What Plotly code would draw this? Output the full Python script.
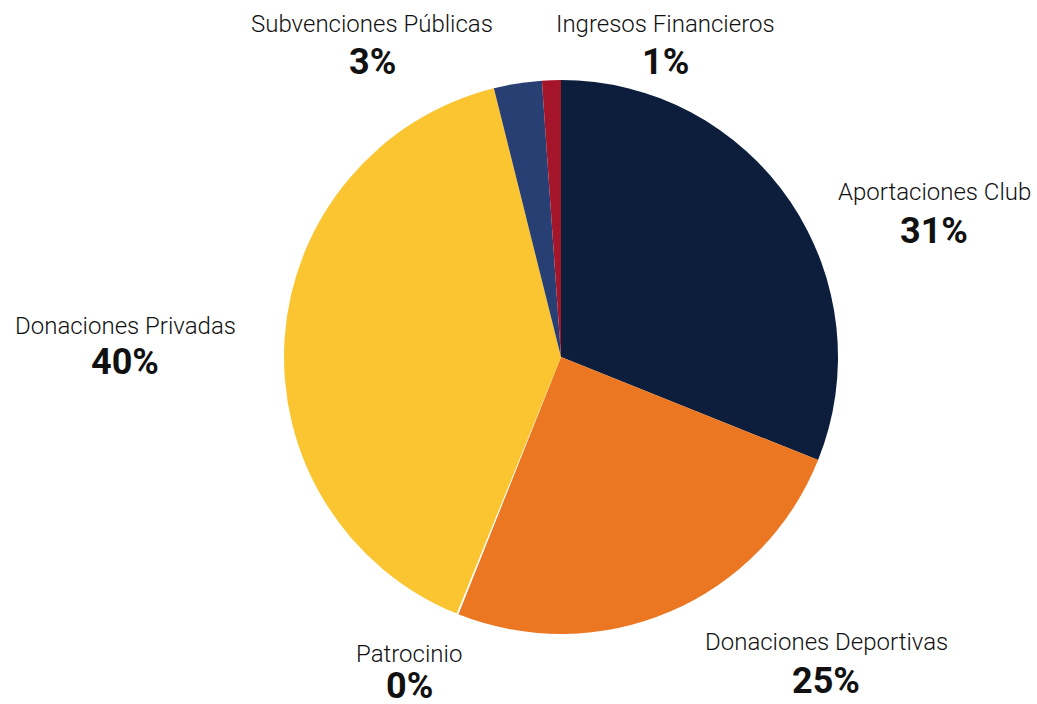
import plotly.graph_objects as go

W, H = 1037, 704

# data
categories = [
    "Aportaciones Club",
    "Donaciones Deportivas",
    "Patrocinio",
    "Donaciones Privadas",
    "Subvenciones Públicas",
    "Ingresos Financieros",
]
shares = [31.1, 25.0, 0.1, 40.0, 2.8, 1.1]

colors = ["#0c1e3b", "#ec7722", "#ffffff", "#fbc531", "#283f74", "#a5152a"]

# label block centres in pixels (x, name line y, percent line y)
label_pos = [
    (934, 192, 231),
    (826, 642, 681),
    (409, 654, 686),
    (125, 326, 362),
    (372, 24, 62),
    (665, 24, 62),
]

FONT = "Roboto"

fig = go.Figure(
    go.Pie(
        labels=categories,
        values=shares,
        sort=False,
        direction="clockwise",
        rotation=0,
        marker=dict(colors=colors, line=dict(width=0)),
        textinfo="none",
        hoverinfo="label+percent",
        domain=dict(x=[284 / W, 838 / W], y=[1 - 634 / H, 1 - 80 / H]),
        showlegend=False,
    )
)

total = sum(shares)
for name, val, (px, ny, py) in zip(categories, shares, label_pos):
    pct = f"{round(val / total * 100)}%"
    fig.add_annotation(
        x=px / W, y=1 - ny / H, xref="paper", yref="paper",
        text=name, showarrow=False, xanchor="center", yanchor="middle",
        font=dict(family=FONT, size=24, color="#111111", weight=300),
    )
    fig.add_annotation(
        x=px / W, y=1 - py / H, xref="paper", yref="paper",
        text=pct, showarrow=False, xanchor="center", yanchor="middle",
        font=dict(family=FONT, size=36, color="#111111", weight=700),
    )

fig.update_layout(
    width=W,
    height=H,
    margin=dict(l=0, r=0, t=0, b=0),
    paper_bgcolor="white",
    plot_bgcolor="white",
)

# drop the default page margin so the figure sits at the window's top-left
fig.write_html(
    "out.html",
    config={"displayModeBar": False},
    post_script="document.body.style.margin='0';",
)
